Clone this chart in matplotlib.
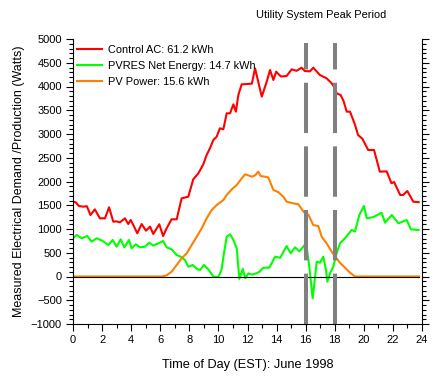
import matplotlib
matplotlib.use("Agg")
import matplotlib.pyplot as plt
from matplotlib.ticker import MultipleLocator

plt.rcParams['font.family'] = ['Liberation Sans', 'DejaVu Sans']

# ---- data (hours, Watts) ----
red_t = [0, 0.2, 0.4, 0.7, 0.95, 1.2, 1.5, 1.85, 2.2, 2.48,
         2.77, 3.0, 3.23, 3.57, 3.8, 3.97, 4.2, 4.42, 4.72, 5.02,
         5.3, 5.52, 5.93, 6.2, 6.44, 6.78, 7.13, 7.47, 7.93, 8.27,
         8.62, 8.96, 9.19, 9.42, 9.65, 9.88, 10.1, 10.34, 10.57, 10.8,
         11.03, 11.2, 11.37, 11.6, 11.9, 12.3, 12.52, 12.98, 13.32, 13.55,
         13.78, 13.97, 14.3, 14.69, 15.04, 15.38, 15.72, 15.95, 16.3, 16.52,
         16.98, 17.44, 17.79, 18.02, 18.13, 18.4, 18.6, 18.82, 19.05, 19.4,
         19.6, 19.9, 20.3, 20.7, 21.1, 21.57, 21.9, 22.08, 22.5, 22.7,
         22.99, 23.4, 23.77]
red_v = [1575, 1560, 1484, 1470, 1480, 1295, 1414, 1225, 1225, 1457,
         1154, 1160, 1140, 1225, 1105, 1190, 1050, 909, 1105, 964,
         1050, 895, 1100, 852, 1015, 1204, 1204, 1646, 1681, 2046,
         2172, 2362, 2558, 2700, 2874, 2943, 3120, 3100, 3436, 3436,
         3625, 3470, 3821, 4046, 4050, 4060, 4383, 3786, 4100, 4347,
         4137, 4312, 4210, 4221, 4361, 4330, 4396, 4325, 4320, 4396,
         4242, 4172, 4067, 3960, 3856, 3821, 3700, 3470, 3470, 3189,
         2979, 2900, 2663, 2663, 2207, 2214, 1962, 1990, 1716, 1716,
         1800, 1575, 1565]

green_t = [0, 0.25, 0.6, 0.98, 1.28, 1.63, 2.04, 2.43, 2.73, 3.0,
           3.28, 3.53, 3.85, 4.03, 4.33, 4.6, 4.95, 5.25, 5.52, 5.87,
           6.2, 6.44, 6.78, 7.13, 7.4, 7.7, 7.93, 8.24, 8.55, 8.75,
           9.0, 9.3, 9.65, 10.0, 10.22, 10.38, 10.57, 10.8, 11.03, 11.26,
           11.44, 11.67, 11.85, 12.06, 12.3, 12.6, 12.82, 13.1, 13.5, 13.9,
           14.25, 14.69, 14.97, 15.27, 15.57, 16.03, 16.25, 16.48, 16.57, 16.76,
           16.99, 17.21, 17.4, 17.49, 17.67, 17.9, 18.13, 18.36, 18.7, 19.16,
           19.39, 19.69, 20.01, 20.2, 20.65, 21.22, 21.46, 21.92, 22.38, 22.95,
           23.23, 23.76]
green_v = [804, 874, 804, 853, 733, 804, 748, 663, 769, 628,
           783, 614, 769, 593, 677, 614, 628, 712, 650, 698,
           748, 614, 572, 453, 417, 347, 206, 242, 150, 140,
           242, 150, 0, -10, 150, 488, 838, 888, 769, 593,
           -50, 160, -35, 66, 40, 66, 101, 186, 186, 417,
           395, 642, 488, 614, 530, 698, 206, -460, -220, 312,
           290, 417, 137, -110, 66, 206, 488, 698, 804, 979,
           944, 1295, 1484, 1225, 1250, 1343, 1133, 1295, 1120, 1190,
           993, 980]

orange_t = [0, 6.1, 6.44, 6.78, 7.13, 7.47, 7.82, 8.16, 8.51, 8.85,
            9.19, 9.54, 9.88, 10.1, 10.34, 10.57, 10.92, 11.26, 11.6, 11.83,
            12.06, 12.3, 12.52, 12.74, 12.9, 13.43, 13.78, 14.12, 14.46, 14.69,
            15.15, 15.5, 15.85, 16.2, 16.52, 16.87, 17.1, 17.44, 17.79, 18.13,
            18.36, 18.59, 19.05, 19.39, 23.8]
orange_v = [0, 0, 25, 101, 242, 383, 488, 663, 838, 1014,
            1225, 1400, 1505, 1554, 1610, 1716, 1835, 1926, 2067, 2151,
            2130, 2101, 2130, 2207, 2116, 2087, 1821, 1775, 1681, 1575,
            1540, 1520, 1365, 1295, 1084, 1062, 838, 698, 523, 380,
            290, 220, 80, 0, 0]

zero_t = [0, 18, 18, 23.8]
zero_v = [0, 0, -20, -20]

peak_hours = [16, 18]
peak_top = 4916

labels = ["Control AC: 61.2 kWh", "PVRES Net Energy: 14.7 kWh", "PV Power: 15.6 kWh"]

# ---- figure ----
fig = plt.figure(figsize=(4.45, 3.83), dpi=100)
ax = fig.add_axes([73/445, 59/383, 349/445, 285/383])

ax.plot(red_t, red_v, color='#ff0000', lw=1.5, label=labels[0])
ax.plot(green_t, green_v, color='#00ff00', lw=1.5, label=labels[1])
ax.plot(orange_t, orange_v, color='#ff8000', lw=1.5, label=labels[2])
ax.plot(zero_t, zero_v, color='black', lw=0.8)
for h in peak_hours:
    ax.plot([h, h], [-1000, peak_top], color='#808080', lw=2.9,
            linestyle=(0, (12.5, 3.3)), solid_capstyle='butt', dash_capstyle='butt')

ax.set_xlim(0, 24)
ax.set_ylim(-1000, 5000)
ax.xaxis.set_major_locator(MultipleLocator(2))
ax.xaxis.set_minor_locator(MultipleLocator(1))
ax.yaxis.set_major_locator(MultipleLocator(500))
ax.yaxis.set_minor_locator(MultipleLocator(100))
ax.spines['top'].set_visible(False)
for s in ['left', 'right', 'bottom']:
    ax.spines[s].set_linewidth(0.8)
ax.tick_params(axis='both', which='major', length=5, width=0.8, labelsize=8, pad=3)
ax.tick_params(axis='both', which='minor', length=3, width=0.8)
ax.tick_params(axis='y', which='both', right=True)
ax.tick_params(axis='x', which='both', top=False)

ax.set_xlabel("Time of Day (EST): June 1998", fontsize=9.2, labelpad=10)
ax.set_ylabel("Measured Electrical Demand /Production (Watts)", fontsize=9, labelpad=4)

ax.legend(loc='upper left', bbox_to_anchor=(0.011, 0.978), frameon=False,
          fontsize=7.9, handlelength=2.3, handletextpad=0.5, labelspacing=0.55,
          borderpad=0, borderaxespad=0)

fig.text(321/445, 1 - 15/383, "Utility System Peak Period", ha='center', va='center', fontsize=7.9)

fig.savefig("out.png", dpi=100)
